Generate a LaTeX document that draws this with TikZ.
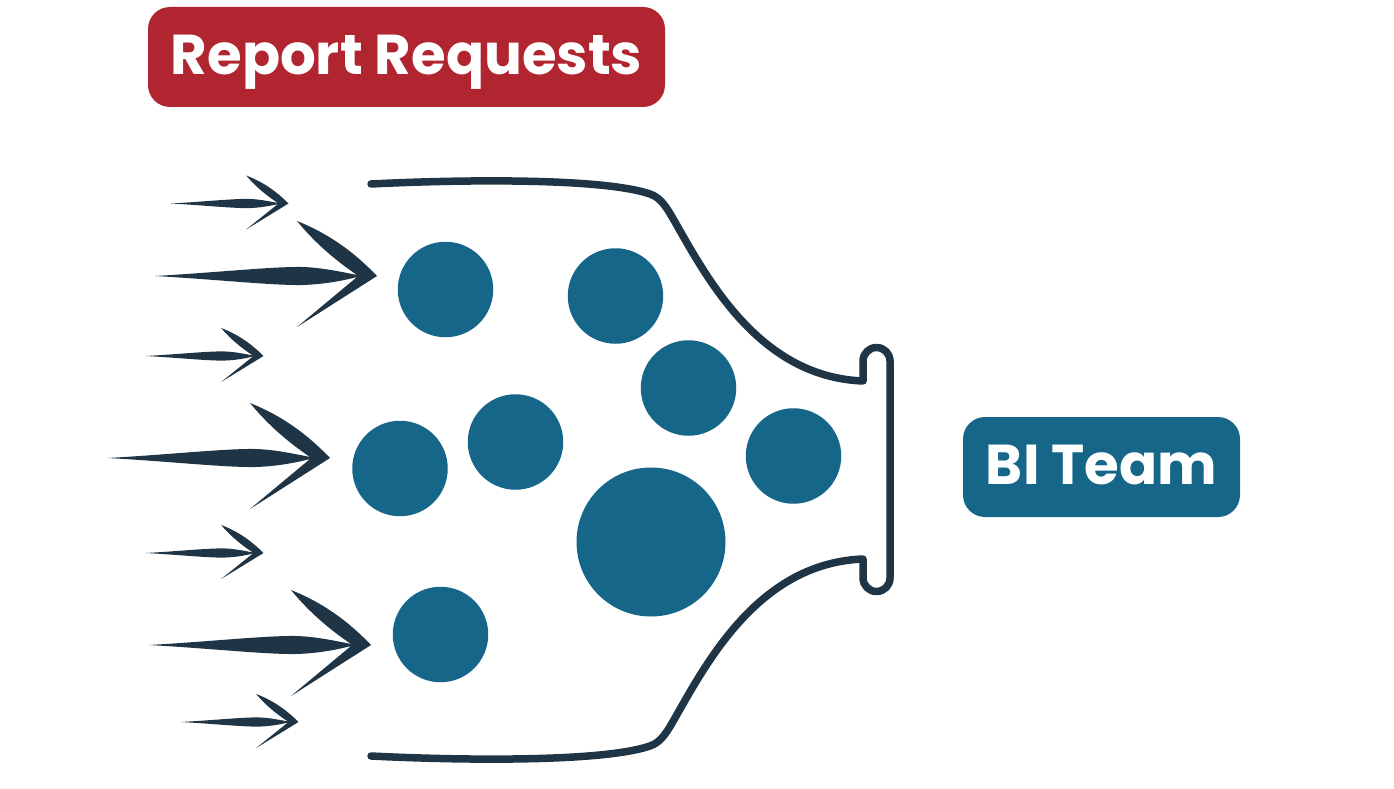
\documentclass[tikz,border=0pt]{standalone}
\usepackage{fontspec}
\setmainfont{Poppins}
\usepackage{xcolor}
\usetikzlibrary{positioning}
\definecolor{funnelink}{HTML}{1F3444}
\definecolor{ballblue}{HTML}{16668A}
\definecolor{reqred}{HTML}{B0252F}
\tikzset{
    labelbox/.style={rounded corners=22pt, inner sep=0pt, minimum height=100pt, text height=40pt, text depth=5pt, text=white, font=\fontsize{56.2}{60}\selectfont\bfseries},
    ball/.style={circle, fill=ballblue, inner sep=0pt, minimum size=#1},
    pics/dart/.style={code={
        \fill[funnelink] (-222,0) .. controls (-160,-3.5) and (-105,-9.5) .. (-75,-9)
            .. controls (-55,-8.5) and (-35,-4) .. (-20,-1)
            .. controls (-42,-16) and (-62,-33) .. (-80,-55)
            .. controls (-50,-43) and (-25,-26) .. (0,0)
            -- (-80,51) -- (-20,1)
            .. controls (-35,5) and (-55,8.5) .. (-75,9)
            .. controls (-105,9.5) and (-160,3.5) .. (-222,0) -- cycle;
    }}
}
\begin{document}
\begin{tikzpicture}[x=1pt, y=-1pt]
    \useasboundingbox (0,0) rectangle (1394,789);
    % Header and team boxes
    \node[labelbox, fill=reqred, minimum width=517pt] (requests) at (406.5,57) {Report Requests};
    \node[labelbox, fill=ballblue, minimum width=277pt] (biteam) at (1101.5,467) {BI Team};
    % Incoming arrows (tip x / tip y / xsize / ysize)
    \foreach \x/\y/\s/\t in {288.5/203.5/0.53/0.51, 377/276/1/1, 263.5/356/0.53/0.51, 330/458/1/1, 263.5/553/0.53/0.51, 371/645/1/1, 298.5/722/0.53/0.51} {
        \pic[xscale=\s, yscale=\t] at (\x,\y) {dart};
    }
    % Funnel outline
    \draw[funnelink, line width=7.5pt, line cap=round, line join=round]
        (371,184) .. controls (450,180) and (600,177) .. (650,194)
        .. controls (662,198) and (668,210) .. (675,222)
        .. controls (708,280) and (760,377) .. (863,381)
        -- (863,361) arc[start angle=180, end angle=360, radius=13.5] -- (890,578)
        arc[start angle=0, end angle=180, radius=13.5] -- (863,559)
        .. controls (760,563) and (708,660) .. (675,718)
        .. controls (668,730) and (662,742) .. (650,746)
        .. controls (600,763) and (450,760) .. (371,756);
    % Balls inside the funnel
    \foreach \n/\x/\y in {a/445.5/289.5, b/615.5/296, c/688.5/388, d/515.5/442, e/400/468.5, f/793.5/456, g/440.5/634.5} {
        \node[ball=95.5pt] (ball\n) at (\x,\y) {};
    }
    \node[ball=149pt] (ballbig) at (651,542) {};
\end{tikzpicture}
\end{document}
